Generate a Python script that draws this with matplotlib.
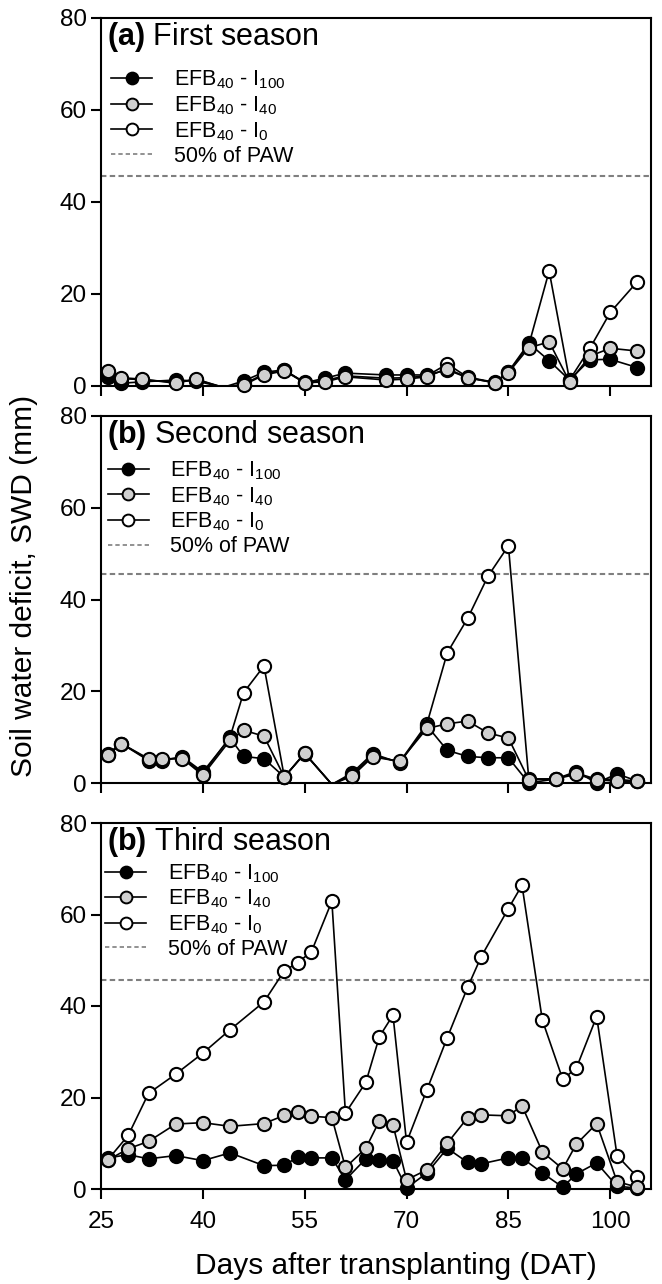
import numpy as np
import matplotlib
matplotlib.use("Agg")
import matplotlib.pyplot as plt
from matplotlib.lines import Line2D

plt.rcParams['font.family'] = ['Liberation Sans', 'DejaVu Sans']
plt.rcParams['mathtext.fontset'] = 'custom'
plt.rcParams['mathtext.rm'] = 'Liberation Sans'
plt.rcParams['mathtext.it'] = 'Liberation Sans:italic'
plt.rcParams['mathtext.bf'] = 'Liberation Sans:bold'

# ---------------- data ----------------
days_a = [26, 28, 31, 36, 39, 43, 46, 49, 52, 55, 58, 61, 67, 70, 73, 76, 79, 83, 85, 88, 91, 94, 97, 100, 104]
a_i100 = [2.0, 0.6, 0.9, 1.3, 1.1, -0.3, 1.1, 3.0, 3.5, 0.7, 1.7, 2.8, 2.4, 2.4, 2.4, 3.5, 1.8, 0.7, 3.1, 9.3, 5.5, 1.3, 5.7, 5.8, 4.0]
a_i40 = [3.3, 1.8, 1.5, 0.6, 1.5, -0.3, 0.2, 2.4, 3.3, 0.7, 0.9, 2.0, 1.3, 1.5, 2.0, 3.8, 1.8, 0.7, 2.9, 8.3, 9.6, 0.9, 6.5, 8.2, 7.6]
a_i0 = [3.0, 1.6, 1.4, 0.8, 1.4, -0.3, 0.4, 2.6, 3.4, 0.8, 1.2, 2.2, 1.7, 1.8, 2.2, 4.8, 1.9, 0.8, 3.0, 8.9, 25.0, 1.3, 8.2, 16.0, 22.7]

days_b = [26, 28, 32, 34, 37, 40, 44, 46, 49, 52, 55, 59, 62, 65, 69, 73, 76, 79, 82, 85, 88, 92, 95, 98, 101, 104]
b_i100 = [6.4, 8.6, 4.9, 4.9, 5.7, 2.4, 9.8, 5.8, 5.3, 1.3, 6.4, -0.3, 2.2, 6.4, 4.4, 12.5, 7.1, 5.8, 5.5, 5.5, 0.0, 0.9, 2.5, 0.0, 2.0, 0.4]
b_i40 = [6.0, 8.6, 5.3, 5.3, 5.3, 1.7, 9.3, 11.5, 10.2, 1.3, 6.5, -0.3, 1.5, 5.7, 4.7, 11.9, 12.9, 13.5, 10.9, 9.8, 0.7, 0.9, 1.9, 0.7, 0.4, 0.4]
b_i0 = [6.2, 8.6, 5.1, 5.1, 5.5, 2.0, 10.0, 19.7, 25.5, 1.3, 6.5, -0.3, 1.8, 6.0, 4.6, 12.9, 28.4, 35.9, 45.1, 51.7, 0.9, 0.9, 2.2, 0.8, 0.8, 0.4]

days_c = [26, 29, 32, 36, 40, 44, 49, 52, 54, 56, 59, 61, 64, 66, 68, 70, 73, 76, 79, 81, 85, 87, 90, 93, 95, 98, 101, 104]
c_i100 = [6.8, 7.5, 6.6, 7.3, 6.2, 7.9, 5.1, 5.2, 7.0, 6.8, 6.8, 2.0, 6.6, 6.4, 6.2, 0.2, 3.5, 8.9, 5.8, 5.5, 6.8, 6.8, 3.5, 0.4, 3.3, 5.7, 0.6, 0.2]
c_i40 = [6.3, 8.8, 10.4, 14.2, 14.5, 13.7, 14.3, 16.1, 16.8, 15.9, 15.6, 4.7, 8.9, 14.9, 14.0, 2.0, 4.2, 10.0, 15.6, 16.2, 16.0, 18.2, 8.1, 4.4, 9.8, 14.3, 1.6, 0.4]
c_i0 = [6.4, 11.7, 20.9, 25.1, 29.7, 34.8, 40.9, 47.7, 49.5, 51.9, 62.9, 16.6, 23.3, 33.3, 38.0, 10.2, 21.7, 33.1, 44.1, 50.8, 61.3, 66.4, 36.9, 24.0, 26.4, 37.7, 7.3, 2.6]

paw50 = 45.6
titles_bold = ['(a)', '(b)', '(b)']
titles = ['First season', 'Second season', 'Third season']
series_labels = [r'EFB$_\mathregular{40}$ - I$_\mathregular{100}$',
                 r'EFB$_\mathregular{40}$ - I$_\mathregular{40}$',
                 r'EFB$_\mathregular{40}$ - I$_\mathregular{0}$']
paw_label = '50% of PAW'
xticks = [25, 40, 55, 70, 85, 100]
yticks = [0, 20, 40, 60, 80]

# ---------------- figure ----------------
W, H = 662, 1284
fig = plt.figure(figsize=(W / 100, H / 100), dpi=100)

left_px, right_px = 101, 651
panels_px = [(18, 386), (416, 783), (823, 1189)]
legend_anchor = [(0.019, 0.862), (0.012, 0.882), (0.008, 0.893)]

data = [
    (days_a, a_i100, a_i40, a_i0),
    (days_b, b_i100, b_i40, b_i0),
    (days_c, c_i100, c_i40, c_i0),
]

fills = {'i100': 'black', 'i40': '#d0d0d0', 'i0': 'white'}
MS, MEW, LW = 9.5, 1.5, 1.2

for k, (top, bot) in enumerate(panels_px):
    ax = fig.add_axes([left_px / W, 1 - bot / H, (right_px - left_px) / W, (bot - top) / H])
    days, v100, v40, v0 = data[k]
    d = np.array(days, dtype=float)
    order = [('i0', v0, 2), ('i100', v100, 3), ('i40', v40, 4)]
    for key, vals, z in order:
        v = np.array(vals, dtype=float)
        ax.plot(d, v, '-', color='black', lw=LW, zorder=z, clip_on=True)
        m = v >= 0
        ax.plot(d[m], v[m], 'o', ls='none', ms=MS, mew=MEW, mfc=fills[key], mec='black',
                zorder=z + 0.5, clip_on=False)
    ax.axhline(paw50, color='#7f7f7f', lw=1.5, dashes=(2.6, 1.6), zorder=1)

    ax.set_xlim(25, 106)
    ax.set_ylim(0, 80)
    ax.set_xticks(xticks)
    ax.set_yticks(yticks)
    for sp in ax.spines.values():
        sp.set_linewidth(1.5)
    ax.tick_params(axis='both', direction='out', length=7.5, width=1.5, labelsize=17.5)
    ax.tick_params(axis='y', pad=2.5)
    ax.tick_params(axis='x', pad=8)
    if k < 2:
        ax.tick_params(axis='x', labelbottom=False)

    ax.text(0.0105, 1 - 19 / (bot - top), r'$\mathbf{' + titles_bold[k] + r'}$ ' + titles[k],
            transform=ax.transAxes, fontsize=22, va='center', ha='left')

    handles = [
        Line2D([], [], color='black', lw=LW, marker='o', ms=8.5, mew=1.4, mfc=fills['i100'], mec='black'),
        Line2D([], [], color='black', lw=LW, marker='o', ms=8.5, mew=1.4, mfc=fills['i40'], mec='black'),
        Line2D([], [], color='black', lw=LW, marker='o', ms=8.5, mew=1.4, mfc=fills['i0'], mec='black'),
        Line2D([], [], color='#7f7f7f', lw=1.2, dashes=(2.6, 1.8)),
    ]
    ax.legend(handles, series_labels + [paw_label], loc='upper left',
              bbox_to_anchor=legend_anchor[k], frameon=False, fontsize=15.5,
              handlelength=1.9, handletextpad=1.0, labelspacing=0.14,
              borderpad=0, borderaxespad=0)

fig.text(24 / W, 1 - 586 / H, 'Soil water deficit, SWD (mm)', rotation=90,
         ha='center', va='center', fontsize=21.5)
fig.text(396 / W, 1 - 1266 / H, 'Days after transplanting (DAT)',
         ha='center', va='center', fontsize=21.5)

fig.savefig('out.png', dpi=100)
